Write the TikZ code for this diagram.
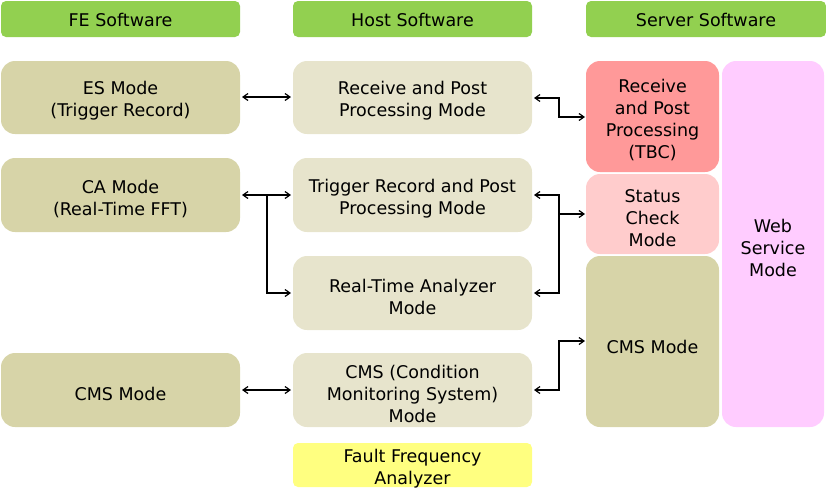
\documentclass[tikz,border=0pt]{standalone}
\usepackage{fontspec}
\setmainfont{DejaVu Sans}
\usetikzlibrary{arrows.meta}
\definecolor{hdr}{HTML}{92D050}
\definecolor{olive}{HTML}{D7D4A8}
\definecolor{lightol}{HTML}{E7E4CC}
\definecolor{tbc}{HTML}{FF9999}
\definecolor{stat}{HTML}{FFCCCC}
\definecolor{web}{HTML}{FFCCFF}
\definecolor{ffa}{HTML}{FFFF80}
\tikzset{
  hbox/.style={inner sep=0pt, font=\fontsize{17.5}{22}\selectfont, align=center},
  box/.style={hbox, yshift=-2.5pt},
  conn/.style={draw=black, line width=1.2pt, -{Straight Barb[length=5pt,width=7pt]}},
  conn2/.style={draw=black, line width=1.2pt, {Straight Barb[length=5pt,width=7pt]}-{Straight Barb[length=5pt,width=7pt]}},
}
\begin{document}
\begin{tikzpicture}[x=1pt,y=-1pt]
\useasboundingbox (0,0) rectangle (826,488);
% headers
\fill[hdr, rounded corners=5pt] (1,1) rectangle (240,37);
\node[hbox] (hfe) at (120.5,19.5) {FE Software};
\fill[hdr, rounded corners=5pt] (293,1) rectangle (532,37);
\node[hbox] (hhost) at (412.5,19.5) {Host Software};
\fill[hdr, rounded corners=5pt] (586,1) rectangle (826,37);
\node[hbox] (hsrv) at (706,19.5) {Server Software};
% FE column
\fill[olive, rounded corners=14pt] (1,61) rectangle (240,134);
\node[box] (es) at (120.5,98.5) {ES Mode\\(Trigger Record)};
\fill[olive, rounded corners=14pt] (1,158) rectangle (240,232);
\node[box] (ca) at (120.5,196) {CA Mode\\(Real-Time FFT)};
\fill[olive, rounded corners=14pt] (1,353) rectangle (240,427);
\node[box] (cmsfe) at (120.5,391) {CMS Mode};
% Host column
\fill[lightol, rounded corners=14pt] (293,61) rectangle (532,134);
\node[box] (rpp) at (412.5,98.5) {Receive and Post\\Processing Mode};
\fill[lightol, rounded corners=14pt] (293,158) rectangle (532,232);
\node[box] (trp) at (412.5,196) {Trigger Record and Post\\Processing Mode};
\fill[lightol, rounded corners=14pt] (293,256) rectangle (532,330);
\node[box] (rta) at (412.5,294) {Real-Time Analyzer\\Mode};
\fill[lightol, rounded corners=14pt] (293,353) rectangle (532,427);
\node[box] (cmsh) at (412.5,391) {CMS (Condition\\Monitoring System)\\Mode};
\fill[ffa, rounded corners=5pt] (293,443) rectangle (532,487);
\node[box] (ffa) at (412.5,466) {Fault Frequency\\Analyzer};
% Server column
\fill[web, rounded corners=14pt] (722,61) rectangle (824,427);
\node[box] (ws) at (773,245) {Web\\Service\\Mode};
\fill[olive, rounded corners=14pt] (586,256) rectangle (719,427);
\node[box] (cmss) at (652.5,344) {CMS Mode};
\fill[stat, rounded corners=14pt] (586,174) rectangle (719,254);
\node[box] (sc) at (652.5,216) {Status\\Check\\Mode};
\fill[tbc, rounded corners=14pt] (586,61) rectangle (719,172);
\node[box] (tbc) at (652.5,118) {Receive\\and Post\\Processing\\(TBC)};
% connectors
\coordinate (esR) at (242,97);
\coordinate (rppL) at (291,97);
\draw[conn2] (esR) -- (rppL);
\coordinate (rppR) at (534,98);
\coordinate (tbcL) at (585,117);
\draw[conn2] (rppR) -| (559,117) -- (tbcL);
\coordinate (caR) at (242,195);
\coordinate (trpL) at (291,195);
\coordinate (rtaL) at (291,293);
\draw[conn2] (caR) -- (trpL);
\draw[conn] (267,195) |- (rtaL);
\coordinate (trpR) at (534,195);
\coordinate (rtaR) at (534,293);
\coordinate (scL) at (585,214);
\draw[conn2] (trpR) -| (559,293) -- (rtaR);
\draw[conn] (559,214) -- (scL);
\coordinate (cmsfeR) at (242,390);
\coordinate (cmshL) at (291,390);
\draw[conn2] (cmsfeR) -- (cmshL);
\coordinate (cmshR) at (534,390);
\coordinate (cmssL) at (585,341);
\draw[conn2] (cmshR) -| (559,341) -- (cmssL);
\end{tikzpicture}
\end{document}
